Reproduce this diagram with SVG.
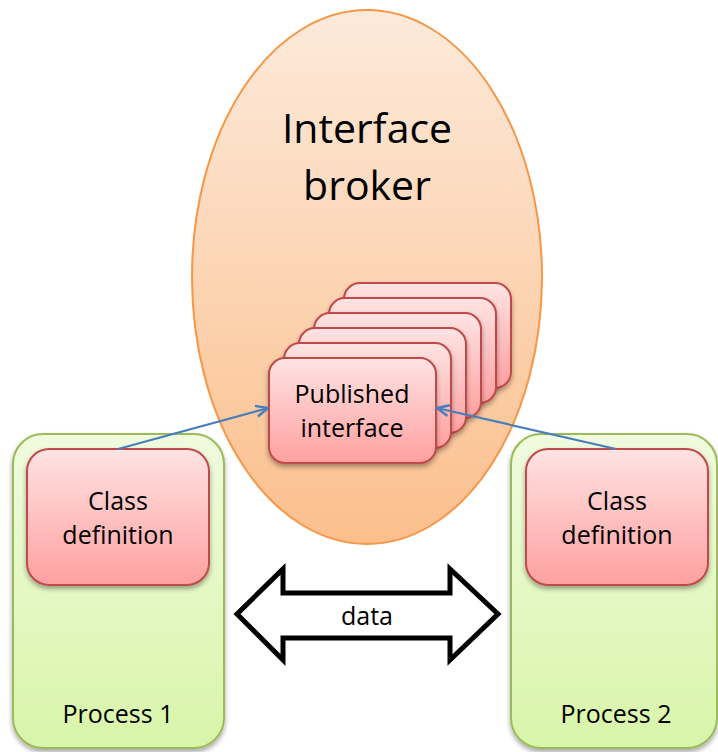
<svg xmlns="http://www.w3.org/2000/svg" width="718" height="752" viewBox="0 0 718 752">
  <defs>
    <linearGradient id="gBroker" x1="0" y1="0" x2="0" y2="1">
      <stop offset="0" stop-color="#fdeadb"/>
      <stop offset="1" stop-color="#fbbf8c"/>
    </linearGradient>
    <linearGradient id="gPink" x1="0" y1="0" x2="0" y2="1">
      <stop offset="0" stop-color="#ffe3e3"/>
      <stop offset="1" stop-color="#ffa0a0"/>
    </linearGradient>
    <linearGradient id="gGreen" x1="0" y1="0" x2="0" y2="1">
      <stop offset="0" stop-color="#f0fbdf"/>
      <stop offset="1" stop-color="#d8f5a9"/>
    </linearGradient>
    <filter id="shadow" x="-20%" y="-20%" width="140%" height="150%">
      <feGaussianBlur in="SourceAlpha" stdDeviation="2.5"/>
      <feOffset dx="0" dy="3" result="b"/>
      <feComponentTransfer><feFuncA type="linear" slope="0.35"/></feComponentTransfer>
      <feMerge><feMergeNode/><feMergeNode in="SourceGraphic"/></feMerge>
    </filter>
    <marker id="open" viewBox="0 0 14 14" refX="13" refY="7" markerWidth="14" markerHeight="14" markerUnits="userSpaceOnUse" orient="auto">
      <polyline points="1,1.5 13,7 1,12.5" fill="none" stroke="#4a7ebb" stroke-width="2.5"/>
    </marker>
  </defs>
  <style>
    text { font-family: "Open Sans", "Liberation Sans", Arial, sans-serif; fill: #000; text-anchor: middle; }
    .big { font-size: 41px; }
    .lbl { font-size: 25px; }
    .pink { fill: url(#gPink); stroke: #be4b48; stroke-width: 2; }
    .green { fill: url(#gGreen); stroke: #9bbb59; stroke-width: 2; }
    .conn { fill: none; stroke: #4a7ebb; stroke-width: 2.2; }
  </style>

  <rect width="718" height="752" fill="#ffffff"/>

  <g id="broker">
    <ellipse cx="367" cy="277" rx="175" ry="267" fill="url(#gBroker)" stroke="#f79646" stroke-width="2"/>
    <text class="big" x="367" y="143">Interface</text>
    <text class="big" x="367" y="200">broker</text>
  </g>

  <g id="process1">
    <rect class="green" x="13" y="434" width="211" height="314" rx="30" filter="url(#shadow)"/>
    <text class="lbl" x="118" y="723">Process 1</text>
  </g>

  <g id="process2">
    <rect class="green" x="511" y="434" width="206" height="314" rx="30" filter="url(#shadow)"/>
    <text class="lbl" x="616" y="723">Process 2</text>
  </g>

  <g id="class1">
    <rect class="pink" x="27" y="449" width="182" height="136" rx="22" filter="url(#shadow)"/>
    <text class="lbl" x="118" y="510">Class</text>
    <text class="lbl" x="118" y="544">definition</text>
  </g>

  <g id="class2">
    <rect class="pink" x="526" y="449" width="182" height="136" rx="22" filter="url(#shadow)"/>
    <text class="lbl" x="617" y="510">Class</text>
    <text class="lbl" x="617" y="544">definition</text>
  </g>

  <g id="published">
    <rect class="pink" x="344" y="283" width="167" height="105" rx="16" filter="url(#shadow)"/>
    <rect class="pink" x="329" y="298" width="167" height="105" rx="16" filter="url(#shadow)"/>
    <rect class="pink" x="314" y="313" width="167" height="105" rx="16" filter="url(#shadow)"/>
    <rect class="pink" x="299" y="328" width="167" height="105" rx="16" filter="url(#shadow)"/>
    <rect class="pink" x="284" y="343" width="167" height="105" rx="16" filter="url(#shadow)"/>
    <rect class="pink" x="269" y="358" width="167" height="105" rx="16" filter="url(#shadow)"/>
    <text class="lbl" x="352" y="403">Published</text>
    <text class="lbl" x="352" y="437">interface</text>
  </g>

  <g id="data">
    <path d="M237,614 L283,569 L283,593 L450,593 L450,569 L498,614 L450,660 L450,638 L283,638 L283,660 Z" fill="#ffffff" stroke="#000000" stroke-width="5" stroke-linejoin="miter"/>
    <text class="lbl" x="367" y="625">data</text>
  </g>

  <g id="connectors">
    <line class="conn" x1="118" y1="449" x2="268" y2="408" marker-end="url(#open)"/>
    <line class="conn" x1="616" y1="449" x2="437" y2="408" marker-end="url(#open)"/>
  </g>
</svg>
